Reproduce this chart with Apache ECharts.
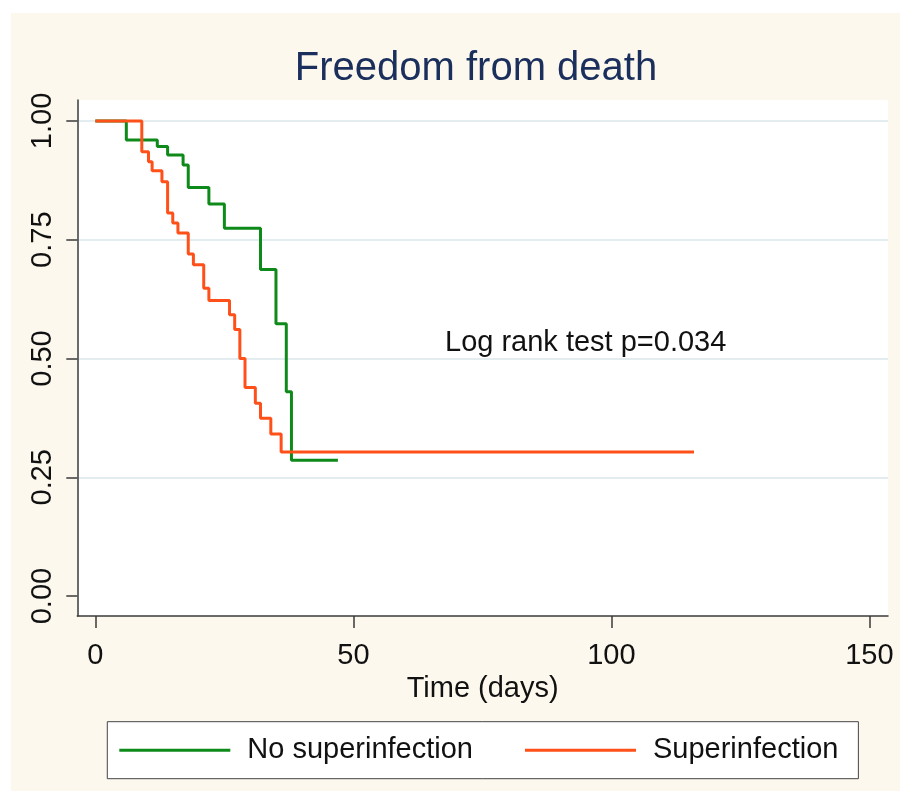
<!DOCTYPE html>
<html>
<head>
<meta charset="utf-8">
<script src="https://cdn.jsdelivr.net/npm/echarts@6/dist/echarts.min.js"></script>
<style>
  html, body { margin: 0; padding: 0; background: #ffffff; }
  #chart { width: 900px; height: 791px; }
</style>
</head>
<body>
<div id="chart"></div>
<script>
  // Kaplan-Meier estimates (time in days, survival)
  const noSuperTime = [0, 6, 12, 14, 17, 18, 22, 25, 32, 35, 37, 38, 47];
  const noSuperSurv = [1, 0.96, 0.946, 0.928, 0.907, 0.86, 0.825, 0.774, 0.687, 0.573, 0.43, 0.286, 0.286];
  const superTime = [0, 9, 10.3, 11, 12.9, 14, 15, 16, 18, 19, 21, 22, 26, 27, 28, 29, 31, 32, 34, 36, 116];
  const superSurv = [1, 0.935, 0.914, 0.895, 0.872, 0.806, 0.785, 0.764, 0.72, 0.697, 0.648, 0.622, 0.592, 0.561, 0.5, 0.439, 0.406, 0.374, 0.341, 0.303, 0.303];

  const xTicks = [0, 50, 100, 150];
  const yTicks = [0, 0.25, 0.5, 0.75, 1];
  const yGridLines = [0.25, 0.5, 0.75, 1];
  const seriesNames = ["No superinfection", "Superinfection"];

  const FONT = "'Liberation Sans', Arial, sans-serif";
  const GREEN = "#0e8a1a";
  const ORANGE = "#ff5019";
  const AXIS = "#3a3a3a";

  const toPairs = (xs, ys) => xs.map((x, i) => [x, ys[i]]);

  const chart = echarts.init(document.getElementById("chart"));

  const option = {
    animation: false,
    backgroundColor: "#ffffff",
    graphic: [
      {
        type: "rect",
        z: -10,
        shape: { x: 11, y: 13, width: 889, height: 778 },
        style: { fill: "#fdf8ee" },
      },
      {
        type: "text",
        x: 476,
        y: 69,
        style: {
          text: "Freedom from death",
          font: "40px " + FONT,
          fill: "#1b2f5c",
          textAlign: "center",
          textVerticalAlign: "middle",
        },
      },
      {
        type: "text",
        x: 445,
        y: 343,
        z: 20,
        style: {
          text: "Log rank test p=0.034",
          font: "29px " + FONT,
          fill: "#111111",
          textAlign: "left",
          textVerticalAlign: "middle",
        },
      },
    ],
    grid: {
      left: 77.3,
      right: 12,
      top: 100,
      bottom: 175,
      show: true,
      backgroundColor: "#ffffff",
      borderWidth: 0,
      outerBoundsMode: "none",
    },
    legend: {
      data: seriesNames,
      left: 107.3,
      top: 721.7,
      orient: "horizontal",
      icon: "rect",
      itemWidth: 111,
      itemHeight: 3,
      itemGap: 52,
      padding: [14, 20, 14, 12],
      backgroundColor: "#ffffff",
      borderColor: "#444444",
      borderWidth: 1,
      textStyle: {
        fontFamily: FONT,
        fontSize: 29,
        lineHeight: 29,
        color: "#111111",
        padding: [0, 0, 0, 12],
      },
    },
    xAxis: {
      type: "value",
      min: -3.5,
      max: 153.6,
      name: "Time (days)",
      nameLocation: "middle",
      nameGap: 52,
      nameTextStyle: { fontFamily: FONT, fontSize: 29, lineHeight: 29, color: "#111111" },
      axisLine: { show: true, onZero: false, lineStyle: { color: AXIS, width: 1.5 } },
      axisTick: { show: true, length: 12, customValues: xTicks, lineStyle: { color: AXIS, width: 1.5 } },
      axisLabel: {
        customValues: xTicks,
        margin: 25,
        fontFamily: FONT,
        fontSize: 29,
        lineHeight: 29,
        color: "#111111",
      },
      splitLine: { show: false },
    },
    yAxis: {
      type: "value",
      min: -0.042,
      max: 1.044,
      axisLine: { show: true, onZero: false, lineStyle: { color: AXIS, width: 1.5 } },
      axisTick: { show: true, length: 11, customValues: yTicks, lineStyle: { color: AXIS, width: 1.5 } },
      axisLabel: {
        customValues: yTicks,
        rotate: 90,
        margin: 20,
        fontFamily: FONT,
        fontSize: 29,
        lineHeight: 29,
        color: "#111111",
        formatter: (v) => v.toFixed(2),
      },
      splitLine: { show: false },
    },
    series: [
      {
        type: "line",
        data: [],
        silent: true,
        z: 0,
        markLine: {
          silent: true,
          z: 0,
          symbol: "none",
          label: { show: false },
          lineStyle: { color: "#e3ecef", width: 2, type: "solid" },
          data: yGridLines.map((v) => ({ yAxis: v })),
        },
      },
      {
        name: seriesNames[0],
        type: "line",
        step: "end",
        z: 10,
        showSymbol: false,
        symbol: "none",
        data: toPairs(noSuperTime, noSuperSurv),
        color: GREEN,
        lineStyle: { color: GREEN, width: 3 },
      },
      {
        name: seriesNames[1],
        type: "line",
        step: "end",
        z: 11,
        showSymbol: false,
        symbol: "none",
        data: toPairs(superTime, superSurv),
        color: ORANGE,
        lineStyle: { color: ORANGE, width: 3 },
      },
    ],
  };

  chart.setOption(option);
</script>
</body>
</html>
